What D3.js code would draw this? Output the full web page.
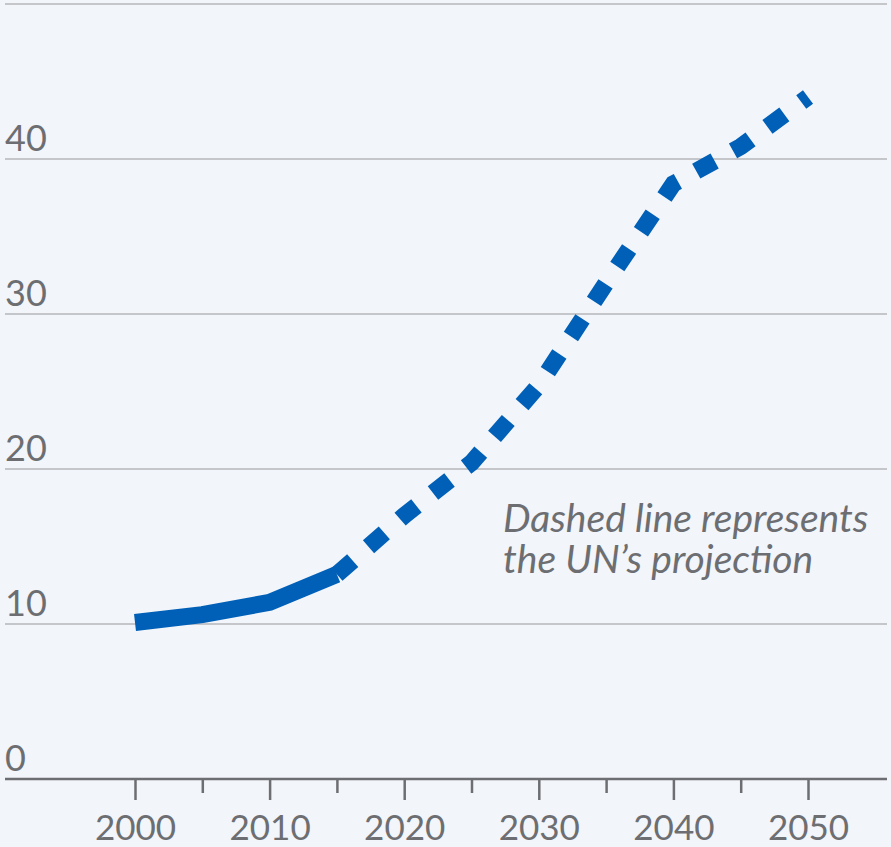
<!DOCTYPE html>
<html>
<head>
<meta charset="utf-8">
<script src="https://cdn.jsdelivr.net/npm/d3@7"></script>
<style>
  html, body { margin: 0; padding: 0; background: #f2f5fa; }
  svg { display: block; }
  .lbl { font-family: "Source Sans Pro", Lato, "Noto Sans", sans-serif; fill: #6d6e71; }
</style>
</head>
<body>
<svg id="chart" width="891" height="847"></svg>
<script>
// Observed values (2000–2015) and UN projection (2015–2050)
const years = [2000, 2005, 2010, 2015, 2020, 2025, 2030, 2035, 2040, 2045, 2050];
const values = [10.1, 10.6, 11.4, 13.2, 17.0, 20.4, 25.4, 32.0, 38.4, 40.8, 44.0];
const lastObservedYear = 2015;
const yGridValues = [10, 20, 30, 40, 50];
const yTickLabels = ["0", "10", "20", "30", "40"];
const xTickYears = [2000, 2005, 2010, 2015, 2020, 2025, 2030, 2035, 2040, 2045, 2050];
const xLabelYears = [2000, 2010, 2020, 2030, 2040, 2050];
const noteLines = ["Dashed line represents", "the UN\u2019s projection"];

const W = 891, H = 847;
const left = 5, right = 887;
const svg = d3.select("#chart");

svg.append("rect").attr("width", W).attr("height", H).attr("fill", "#f2f5fa");

const x = d3.scaleLinear().domain([2000, 2050]).range([135, 808]);
const y = d3.scaleLinear().domain([0, 50]).range([779, 4]);

// Horizontal gridlines
svg.append("g").selectAll("line").data(yGridValues).join("line")
  .attr("x1", left).attr("x2", right)
  .attr("y1", d => y(d)).attr("y2", d => y(d))
  .attr("stroke", "#c4c6ca").attr("stroke-width", 2);

// Y labels sit just above their gridline
svg.append("g").selectAll("text").data(yTickLabels).join("text")
  .attr("class", "lbl")
  .attr("x", left)
  .attr("y", d => y(+d) - 8)
  .attr("font-size", 36)
  .text(d => d);

// X axis: baseline, ticks every 5 years, labels every 10
const xAxis = d3.axisBottom(x)
  .tickValues(xTickYears)
  .tickSize(0)
  .tickFormat("");
const gx = svg.append("g").attr("transform", `translate(0,${y(0)})`).call(xAxis);
gx.select(".domain").remove();
gx.append("line")
  .attr("x1", left).attr("x2", right)
  .attr("stroke", "#6d6e71").attr("stroke-width", 2.5);
gx.selectAll(".tick line")
  .attr("y2", d => (d % 10 === 0 ? 21 : 14))
  .attr("stroke", "#6d6e71").attr("stroke-width", 2.5);
gx.selectAll(".tick").filter(d => xLabelYears.includes(d))
  .append("text")
  .attr("class", "lbl")
  .attr("y", 61)
  .attr("text-anchor", "middle")
  .attr("font-size", 35)
  .text(d => d);

// Line: solid for observed, dashed for projection
const pts = years.map((yr, i) => ({ year: yr, value: values[i] }));
const line = d3.line().x(d => x(d.year)).y(d => y(d.value));
const blue = "#0060b7";

svg.append("path")
  .datum(pts.filter(d => d.year <= lastObservedYear))
  .attr("d", line)
  .attr("fill", "none")
  .attr("stroke", blue)
  .attr("stroke-width", 17)
  .attr("stroke-linejoin", "miter");

svg.append("path")
  .datum(pts.filter(d => d.year >= lastObservedYear))
  .attr("d", line)
  .attr("fill", "none")
  .attr("stroke", blue)
  .attr("stroke-width", 17)
  .attr("stroke-dasharray", "21,21")
  .attr("stroke-linejoin", "miter");

// Annotation
svg.append("text")
  .attr("class", "lbl")
  .attr("font-style", "italic")
  .attr("font-size", 39)
  .selectAll("tspan").data(noteLines).join("tspan")
  .attr("x", 503)
  .attr("y", (d, i) => 532 + i * 41)
  .text(d => d);
</script>
</body>
</html>
